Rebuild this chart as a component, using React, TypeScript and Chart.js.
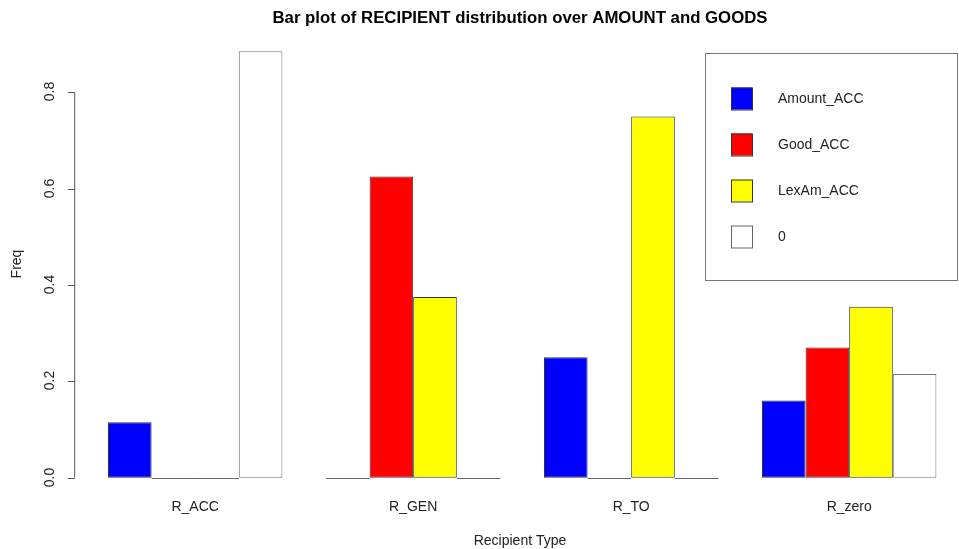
import React, { useEffect, useRef } from "react";
import { Chart, registerables } from "chart.js";

Chart.register(...registerables);

const categories = ["R_ACC", "R_GEN", "R_TO", "R_zero"];
const seriesNames = ["Amount_ACC", "Good_ACC", "LexAm_ACC", "0"];
const amountAcc = [0.115, 0, 0.25, 0.16];
const goodAcc = [0, 0.625, 0, 0.27];
const lexAmAcc = [0, 0.375, 0.75, 0.355];
const zeroSeries = [0.885, 0, 0, 0.215];
const seriesColors = ["#0000FF", "#FF0000", "#FFFF00", "#FFFFFF"];
const yTicks = [0, 0.2, 0.4, 0.6, 0.8];
const yTickLabels = ["0.0", "0.2", "0.4", "0.6", "0.8"];

const FONT = "Liberation Sans, Arial, sans-serif";

const rPlot = {
  id: "rPlot",
  afterDatasetsDraw(chart: any) {
    const ctx = chart.ctx;
    const ys = chart.scales.y;
    const xs = chart.scales.x;
    ctx.save();
    // zero-height bars drawn as baseline segments
    ctx.strokeStyle = "#666";
    ctx.lineWidth = 1;
    chart.data.datasets.forEach((ds: any, di: number) => {
      const meta = chart.getDatasetMeta(di);
      meta.data.forEach((el: any, i: number) => {
        if (ds.data[i] === 0) {
          const y = Math.round(ys.getPixelForValue(0)) + 0.5;
          ctx.beginPath();
          ctx.moveTo(el.x - el.width / 2, y);
          ctx.lineTo(el.x + el.width / 2, y);
          ctx.stroke();
        }
      });
    });

    // y axis (R style)
    const ax = chart.chartArea.left - 11.5;
    ctx.strokeStyle = "#555";
    ctx.beginPath();
    ctx.moveTo(ax, ys.getPixelForValue(yTicks[0]));
    ctx.lineTo(ax, ys.getPixelForValue(yTicks[yTicks.length - 1]));
    ctx.stroke();
    ctx.fillStyle = "#222";
    ctx.font = `14px ${FONT}`;
    yTicks.forEach((t, i) => {
      const py = Math.round(ys.getPixelForValue(t)) + 0.5;
      ctx.beginPath();
      ctx.moveTo(ax, py);
      ctx.lineTo(ax - 7, py);
      ctx.stroke();
      ctx.save();
      ctx.translate(ax - 25, py - 1);
      ctx.rotate(-Math.PI / 2);
      ctx.textAlign = "center";
      ctx.textBaseline = "middle";
      ctx.fillText(yTickLabels[i], 0, 0);
      ctx.restore();
    });

    // x category labels
    ctx.textAlign = "center";
    ctx.textBaseline = "middle";
    categories.forEach((c, i) => {
      ctx.fillText(c, xs.getPixelForValue(i), 507);
    });
    // axis titles
    ctx.fillText("Recipient Type", 520, 541);
    ctx.save();
    ctx.translate(17.5, 264);
    ctx.rotate(-Math.PI / 2);
    ctx.fillText("Freq", 0, 0);
    ctx.restore();

    // title
    ctx.font = `bold 16.8px ${FONT}`;
    ctx.fillStyle = "#000";
    ctx.fillText("Bar plot of RECIPIENT distribution over AMOUNT and GOODS", 520, 18);

    // legend
    ctx.fillStyle = "#fff";
    ctx.fillRect(705, 53, 253, 228);
    ctx.strokeStyle = "#777";
    ctx.strokeRect(705.5, 53.5, 252, 227);
    ctx.font = `14px ${FONT}`;
    ctx.textAlign = "left";
    seriesNames.forEach((name, i) => {
      const cy = 98.5 + i * 46;
      ctx.fillStyle = seriesColors[i];
      ctx.fillRect(731, cy - 11, 21, 22);
      ctx.strokeStyle = i === 3 ? "#666" : "#333";
      ctx.strokeRect(731.5, cy - 10.5, 21, 22);
      ctx.fillStyle = "#222";
      ctx.fillText(name, 778, cy + 1);
    });
    ctx.restore();
  },
};

export default function App() {
  const ref = useRef<HTMLCanvasElement>(null);
  useEffect(() => {
    document.body.style.margin = "0";
    const data = [amountAcc, goodAcc, lexAmAcc, zeroSeries];
    const chart = new Chart(ref.current as HTMLCanvasElement, {
      type: "bar",
      data: {
        labels: categories,
        datasets: data.map((d, i) => ({
          label: seriesNames[i],
          data: d,
          backgroundColor: seriesColors[i],
          borderColor: i === 3 ? "#777" : "#333",
          borderWidth: 1,
          borderSkipped: false,
          categoryPercentage: 0.8,
          barPercentage: 1.0,
        })),
      },
      options: {
        responsive: false,
        animation: false,
        layout: { padding: { left: 86.2, right: 0.8, top: 34.5, bottom: 54.3 } },
        plugins: { legend: { display: false }, title: { display: false }, tooltip: { enabled: false } },
        scales: {
          x: { display: false, offset: true },
          y: { display: false, min: -0.0354, max: 0.92 },
        },
      },
      plugins: [rPlot],
    });
    return () => chart.destroy();
  }, []);
  return <canvas ref={ref} width={959} height={549} style={{ display: "block" }} />;
}
